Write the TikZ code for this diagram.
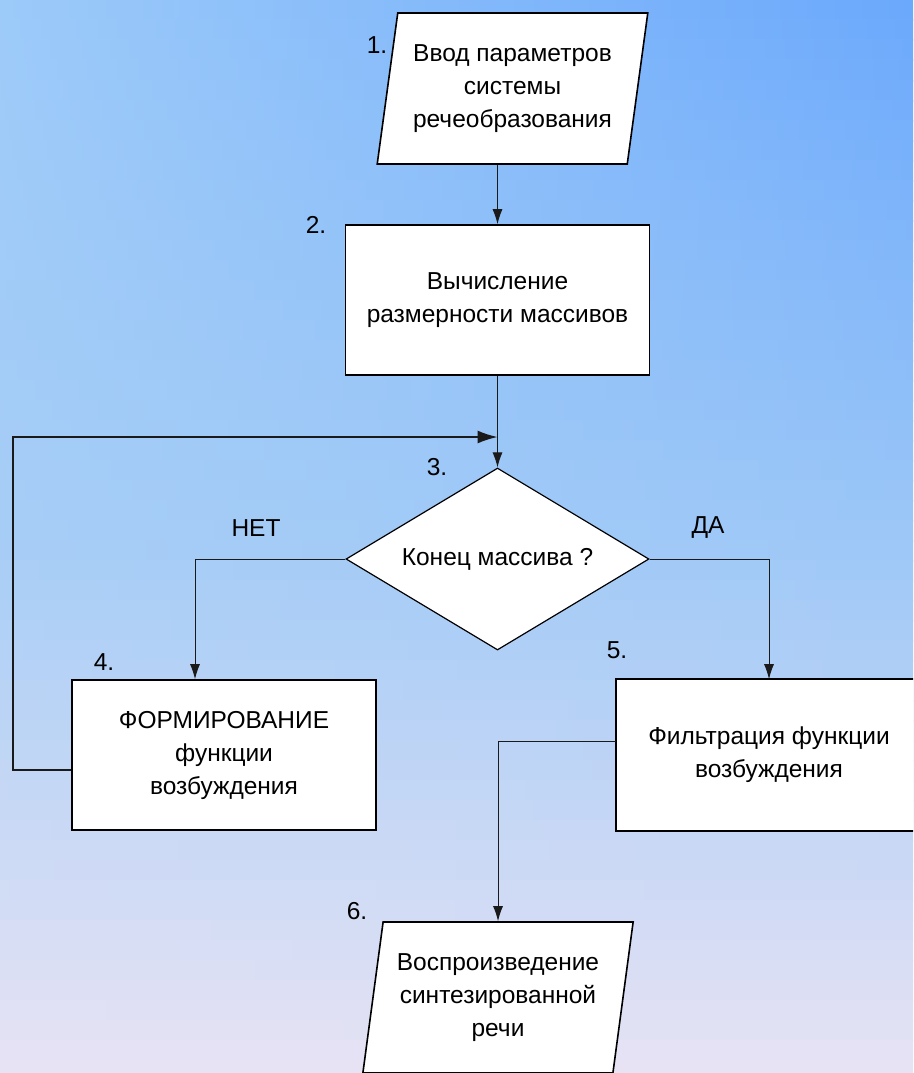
\documentclass[tikz,border=0pt]{standalone}
\usepackage{fontspec}
\setmainfont{Liberation Sans}
\usepackage{tikz}
\usetikzlibrary{arrows.meta,positioning,shapes.geometric,calc}
% background corners
\definecolor{bgtl}{HTML}{9CCAF9}
\definecolor{bgtr}{HTML}{6AA8FC}
\definecolor{bgml}{HTML}{A6CDF6}
\definecolor{bgmr}{HTML}{9CC7F7}
\definecolor{bglow}{HTML}{E7E3F4}
\definecolor{wire}{HTML}{1A1A1A}
\newcommand{\flowfont}{\fontsize{24.5}{33}\selectfont}
\tikzset{
  procbox/.style={
    rectangle, draw=black, fill=white, line width=1.6pt,
    minimum width=304pt, minimum height=150pt,
    font=\flowfont, align=center
  },
  iobox/.style={
    trapezium, trapezium left angle=79, trapezium right angle=101,
    trapezium stretches=true,
    draw=black, fill=white, line width=1.6pt,
    minimum width=271pt, minimum height=151pt,
    font=\flowfont, align=center
  },
  decbox/.style={
    diamond, draw=black, fill=white, line width=1.2pt,
    minimum width=303pt, minimum height=182pt,
    shape aspect=1.66, inner sep=0pt,
    font=\flowfont
  },
  flowarrow/.style={
    -{Latex[length=15pt,width=10pt]}, line width=1pt, color=#1
  },
  flowarrow/.default=wire,
  looparrow/.style={
    -{Latex[length=20pt,width=13pt]}, line width=1.6pt, color=wire
  },
  boxedge/.style={draw=black, line width=1.6pt},
  numlabel/.style={font=\flowfont},
}

\begin{document}
\begin{tikzpicture}[x=1pt,y=-1pt]

% Frame and background
\useasboundingbox (0,0) rectangle (913,1073);
\clip (0,0) rectangle (913,1073);
\foreach \k in {0,...,26}{
  \pgfmathsetmacro{\ya}{20*\k}
  \pgfmathtruncatemacro{\p}{(530-\ya)/540*100}
  \shade[left color=bgtl!\p!bgml, right color=bgtr!\p!bgmr]
    (0,\ya) rectangle (913,\ya+21);
}
\foreach \k in {27,...,53}{
  \pgfmathsetmacro{\ya}{20*\k}
  \pgfmathtruncatemacro{\p}{max(0,(1063-\ya)/533*100)}
  \shade[left color=bgml!\p!bglow, right color=bgmr!\p!bglow]
    (0,\ya) rectangle (913,\ya+21);
}

% Blocks
\node[iobox] (inp) at (512.5,88.5) {Ввод параметров\\системы\\речеобразования};
\node[procbox] (calc) at (497.5,300) {Вычисление\\размерности массивов};
\node[decbox] (chk) at (497.5,559) {Конец массива ?};
\node[procbox] (form) at (224,755) {ФОРМИРОВАНИЕ\\функции\\возбуждения};
\node[procbox, draw=none] (filt) at (769,755) {Фильтрация функции\\возбуждения};
\node[iobox] (out) at (498,997.5) {Воспроизведение\\синтезированной\\речи};

% box 5 runs off the right edge
\draw[boxedge] (filt.north east) -- (filt.north west) -- (filt.south west) -- (filt.south east);

% Step numbers
\node[numlabel] (n1) at (377,45) {1.};
\node[numlabel] (n2) at (316,225) {2.};
\node[numlabel] (n3) at (437,467) {3.};
\node[numlabel] (n4) at (104,662) {4.};
\node[numlabel] (n5) at (617,650) {5.};
\node[numlabel] (n6) at (357,911) {6.};

% Branch labels
\node[numlabel] (no) at (256,528) {НЕТ};
\node[numlabel] (yes) at (708,528) {ДА};

% Main flow
\draw[flowarrow] (inp.south -| calc.north) -- (calc.north);
\draw[flowarrow] (calc.south) -- (chk.north);
\draw[flowarrow] (chk.west) -| ([xshift=-29pt]form.north);
\draw[flowarrow] (chk.east) -| (filt.north);
\draw[flowarrow] ([yshift=14pt]filt.west) -| (out.north);

% Loop back to the check
\coordinate (loopturn) at (13,437);
\coordinate (merge) at (497.5,437);
\draw[looparrow] ([yshift=-15pt]form.west) -| (loopturn) -- (merge);

\end{tikzpicture}
\end{document}
